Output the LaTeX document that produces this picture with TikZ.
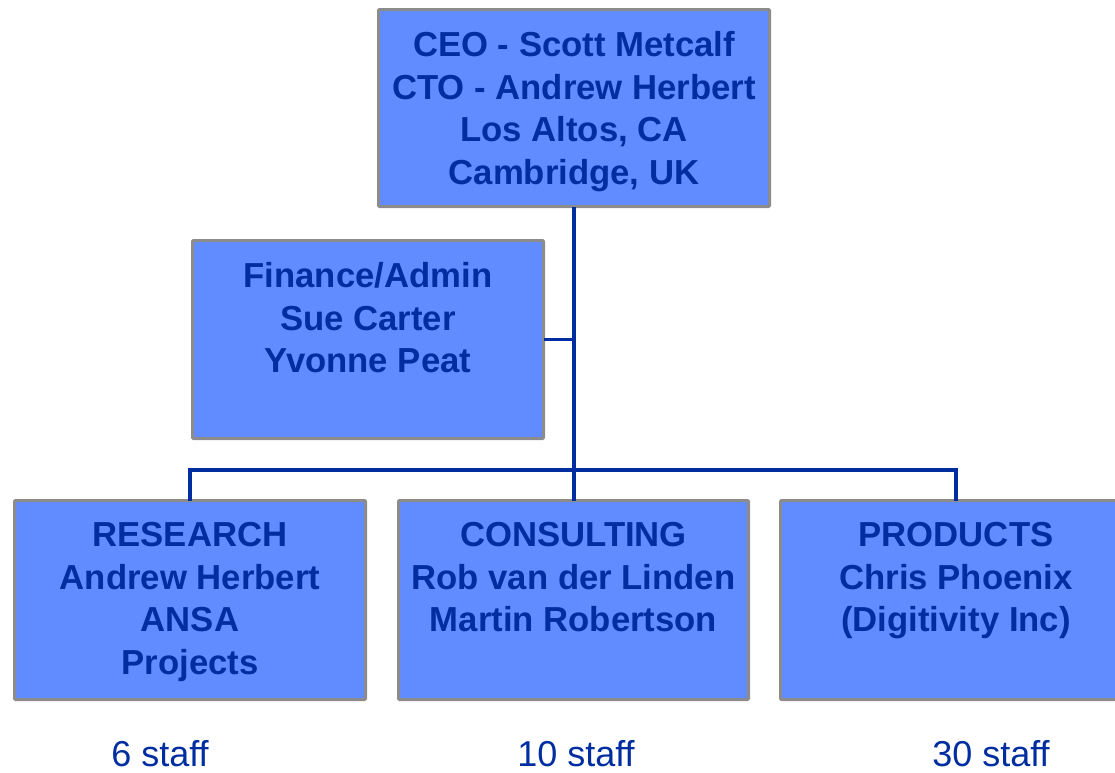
\documentclass[tikz,border=0pt]{standalone}
\usepackage{fontspec}
\setmainfont{Liberation Sans}
\definecolor{boxblue}{RGB}{96,140,255}
\definecolor{inkblue}{RGB}{0,45,160}
\definecolor{rimgray}{RGB}{140,140,140}
\tikzset{
  unitbox/.style={rectangle, draw=rimgray, line width=3pt, fill=boxblue, inner sep=0pt, outer sep=0pt, rounded corners=1pt},
  unittext/.style={anchor=north, align=center, inner sep=0pt, text=inkblue, font=\fontsize{34.7}{42.5}\selectfont\bfseries},
  staff/.style={anchor=base, inner sep=0pt, text=inkblue, font=\fontsize{36}{43}\selectfont},
  link/.style={draw=inkblue, line width=3.2pt}
}
\begin{document}
\begin{tikzpicture}[x=1pt, y=-1pt]
\useasboundingbox (0,0) rectangle (1115,772);
\node[unitbox, minimum width=391pt, minimum height=197pt] (ceo) at (574,108){};
\node[unittext, yshift=-22pt] (ceotxt) at (ceo.north){CEO - Scott Metcalf\\CTO - Andrew Herbert\\Los Altos, CA\\Cambridge, UK};
\node[unitbox, minimum width=351pt, minimum height=198pt] (fin) at (368,339.5){};
\node[unittext, yshift=-22pt] (fintxt) at (fin.north){Finance/Admin\\Sue Carter\\Yvonne Peat};
\node[unitbox, minimum width=351pt, minimum height=199pt] (res) at (190,600){};
\node[unittext, yshift=-22pt] (restxt) at (res.north){RESEARCH\\Andrew Herbert\\ANSA\\Projects};
\node[unitbox, minimum width=350pt, minimum height=199pt] (con) at (573.5,600){};
\node[unittext, yshift=-22pt] (context) at (con.north){CONSULTING\\Rob van der Linden\\Martin Robertson};
\node[unitbox, minimum width=351pt, minimum height=199pt] (prod) at (956,600){};
\node[unittext, yshift=-22pt] (prodtxt) at (prod.north){PRODUCTS\\Chris Phoenix\\(Digitivity Inc)};
\coordinate (bar) at (574,470);
\draw[link] (ceo.south) -- (bar);
\draw[link] (fin.east) -- (fin.east -| ceo.south);
\draw[link] (bar) -| (res.north);
\draw[link] (bar) -- (con.north -| bar);
\draw[link] (bar) -| (prod.north);
\node[staff] (resstaff) at (160,766){6 staff};
\node[staff] (constaff) at (576,766){10 staff};
\node[staff] (prodstaff) at (991,766){30 staff};
\end{tikzpicture}
\end{document}
